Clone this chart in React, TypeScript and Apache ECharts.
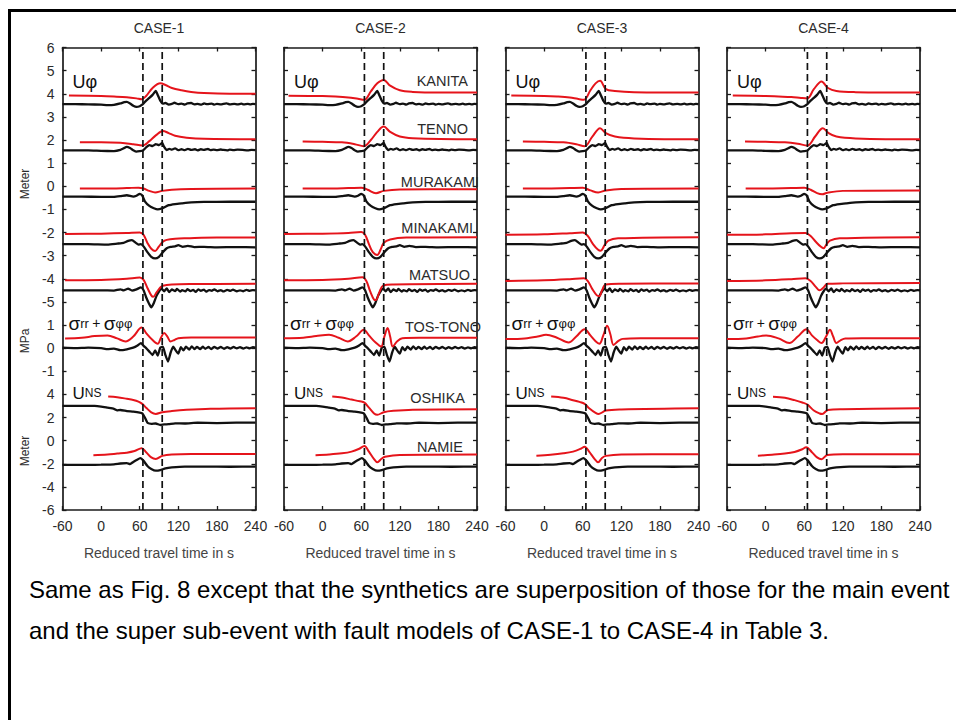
import React, { useEffect, useRef } from 'react';
import * as echarts from 'echarts';

// ---------------- DATA ----------------
const CASES = ['CASE-1', 'CASE-2', 'CASE-3', 'CASE-4'];
const X_MIN = -60;
const X_MAX = 240;
const X_STEP = 60;
const MARKER_TIMES = [65, 95];
const STATIONS = ['KANITA', 'TENNO', 'MURAKAMI', 'MINAKAMI', 'MATSUO', 'TOS-TONO', 'OSHIKA', 'NAMIE'];
// component of each station: phi (Meter), stress (MPa), ns (Meter)
const COMPONENT = ['phi', 'phi', 'phi', 'phi', 'phi', 'stress', 'ns', 'ns'];

// observed records (black) [time s, value]
const kanitaObs = [[-60,3.55],[-40,3.55],[-20,3.54],[0,3.53],[10,3.51],[20,3.52],[30,3.58],[36,3.64],[40,3.65],[45,3.58],[50,3.48],[55,3.43],[60,3.46],[65,3.55],[70,3.7],[75,3.82],[80,3.95],[85,4.12],[88,3.95],[92,3.7],[96,3.57],[100,3.6],[105,3.53],[110,3.56],[114,3.61],[120,3.55],[125,3.57],[130,3.53],[134,3.58],[140,3.6],[145,3.54],[150,3.56],[156,3.53],[160,3.58],[165,3.55],[172,3.57],[176,3.53],[180,3.56],[186,3.54],[190,3.56],[195,3.58],[200,3.54],[207,3.56],[212,3.54],[218,3.57],[222,3.54],[228,3.56],[232,3.54],[236,3.56],[240,3.55]];
const tennoObs = [[-60,1.55],[-20,1.55],[0,1.53],[20,1.52],[30,1.57],[35,1.64],[40,1.7],[45,1.65],[50,1.56],[55,1.5],[60,1.52],[65,1.55],[70,1.68],[75,1.78],[80,1.74],[85,1.82],[90,1.78],[95,1.87],[98,1.7],[102,1.56],[106,1.62],[110,1.58],[115,1.64],[120,1.56],[125,1.6],[130,1.56],[135,1.62],[140,1.57],[146,1.6],[150,1.55],[155,1.6],[160,1.57],[166,1.61],[170,1.56],[175,1.58],[180,1.56],[186,1.59],[190,1.57],[196,1.55],[200,1.58],[206,1.56],[212,1.58],[220,1.57],[228,1.55],[234,1.57],[240,1.56]];
const murakamiObs = [[-60,-0.45],[-30,-0.45],[0,-0.46],[20,-0.46],[30,-0.43],[40,-0.39],[50,-0.45],[55,-0.41],[60,-0.33],[64,-0.4],[68,-0.65],[75,-0.85],[82,-0.95],[88,-1.0],[95,-0.95],[105,-0.82],[115,-0.77],[125,-0.74],[140,-0.7],[160,-0.68],[200,-0.67],[240,-0.67]];
const minakamiObs = [[-60,-2.5],[-20,-2.5],[10,-2.52],[25,-2.48],[35,-2.45],[42,-2.36],[48,-2.33],[54,-2.45],[58,-2.52],[62,-2.5],[66,-2.6],[72,-2.85],[78,-3.05],[84,-3.12],[90,-3.05],[96,-2.85],[102,-2.68],[108,-2.62],[115,-2.6],[120,-2.55],[127,-2.62],[135,-2.58],[145,-2.63],[160,-2.62],[180,-2.64],[210,-2.63],[240,-2.64]];
const matsuoObs = [[-60,-4.5],[-30,-4.5],[0,-4.5],[20,-4.51],[30,-4.46],[35,-4.5],[42,-4.43],[48,-4.51],[55,-4.46],[62,-4.37],[66,-4.5],[70,-4.8],[74,-5.05],[78,-5.24],[82,-5.05],[86,-4.75],[90,-4.55],[94,-4.43],[98,-4.54],[102,-4.42],[106,-4.58],[110,-4.46],[115,-4.53],[118,-4.44],[123,-4.56],[126,-4.49],[131,-4.55],[134,-4.45],[139,-4.53],[143,-4.48],[147,-4.57],[151,-4.46],[155,-4.52],[160,-4.47],[163,-4.56],[168,-4.49],[172,-4.52],[176,-4.46],[181,-4.54],[186,-4.49],[190,-4.55],[196,-4.48],[201,-4.52],[205,-4.47],[211,-4.54],[216,-4.5],[221,-4.54],[226,-4.48],[231,-4.52],[236,-4.49],[240,-4.5]];
const tosTonoObs = [[-60,0.02],[-40,0.0],[-20,0.02],[0,0.0],[10,-0.04],[20,-0.02],[30,-0.09],[40,-0.05],[50,0.02],[56,0.1],[62,0.22],[66,0.1],[70,0.0],[75,-0.15],[80,-0.3],[84,-0.1],[88,-0.32],[92,0.02],[96,0.06],[100,-0.3],[104,-0.58],[108,-0.2],[112,0.06],[116,-0.1],[120,-0.24],[124,0.04],[128,-0.1],[132,0.06],[137,-0.06],[141,0.08],[145,-0.04],[149,0.05],[154,-0.04],[158,0.06],[162,-0.03],[167,0.05],[171,-0.04],[176,0.05],[181,-0.02],[186,0.05],[191,-0.03],[196,0.04],[201,-0.02],[206,0.05],[211,-0.01],[216,0.04],[221,-0.02],[226,0.03],[231,-0.01],[236,0.04],[240,0.02]];
const oshikaObs = [[-60,3.0],[-30,3.0],[-10,3.0],[0,2.95],[10,2.85],[20,2.75],[25,2.62],[30,2.65],[40,2.55],[50,2.5],[60,2.42],[64,2.35],[68,2.0],[72,1.55],[78,1.45],[85,1.48],[92,1.35],[98,1.4],[105,1.42],[115,1.5],[130,1.48],[150,1.55],[180,1.52],[210,1.55],[240,1.55]];
const namieObs = [[-60,-2.1],[-20,-2.1],[0,-2.08],[20,-2.05],[30,-1.98],[40,-1.95],[45,-2.03],[50,-1.85],[56,-1.65],[61,-1.52],[66,-1.75],[72,-2.2],[78,-2.45],[85,-2.6],[92,-2.55],[100,-2.4],[110,-2.32],[130,-2.25],[160,-2.25],[200,-2.26],[240,-2.25]];

// synthetics (red), one list per case
const kanitaSyn = [
  [[-50,3.92],[0,3.9],[20,3.88],[40,3.85],[55,3.8],[63,3.76],[70,3.9],[80,4.25],[92,4.45],[100,4.38],[110,4.25],[125,4.15],[140,4.08],[160,4.03],[200,4.0],[240,4.0]],
  [[-53,3.91],[0,3.9],[20,3.88],[40,3.84],[55,3.78],[65,3.74],[75,4.1],[85,4.45],[95,4.6],[105,4.35],[120,4.15],[140,4.08],[180,4.05],[240,4.05]],
  [[-51,3.92],[0,3.9],[20,3.88],[40,3.84],[52,3.78],[62,3.74],[72,4.15],[80,4.45],[87,4.56],[96,4.2],[110,4.12],[140,4.07],[240,4.05]],
  [[-51,3.92],[0,3.9],[20,3.88],[40,3.86],[55,3.82],[65,3.8],[75,4.2],[87,4.53],[97,4.25],[110,4.12],[140,4.07],[240,4.05]],
];
const tennoSyn = [
  [[-33,1.9],[0,1.9],[30,1.88],[50,1.82],[64,1.76],[75,1.95],[85,2.2],[96,2.39],[105,2.3],[115,2.18],[133,2.1],[160,2.05],[240,2.03]],
  [[-31,1.93],[0,1.92],[30,1.9],[50,1.82],[64,1.73],[75,2.0],[85,2.35],[95,2.58],[105,2.35],[120,2.15],[140,2.08],[240,2.03]],
  [[-33,1.93],[0,1.92],[30,1.9],[50,1.82],[63,1.73],[75,2.15],[87,2.51],[96,2.3],[110,2.15],[140,2.07],[240,2.03]],
  [[-32,1.93],[0,1.92],[30,1.9],[50,1.84],[65,1.76],[77,2.15],[89,2.51],[98,2.3],[110,2.15],[140,2.07],[240,2.03]],
];
const murakamiSyn = [
  [[-33,-0.1],[0,-0.1],[40,-0.08],[58,-0.06],[66,-0.1],[75,-0.2],[84,-0.27],[95,-0.2],[110,-0.15],[140,-0.12],[240,-0.1]],
  [[-31,-0.1],[0,-0.1],[40,-0.08],[60,-0.06],[70,-0.15],[83,-0.3],[95,-0.2],[120,-0.14],[240,-0.13]],
  [[-33,-0.1],[0,-0.1],[40,-0.08],[60,-0.07],[72,-0.18],[84,-0.27],[96,-0.18],[120,-0.12],[240,-0.1]],
  [[-31,-0.1],[0,-0.1],[40,-0.08],[60,-0.07],[70,-0.15],[80,-0.3],[88,-0.35],[96,-0.28],[120,-0.2],[240,-0.18]],
];
const minakamiSyn = [
  [[-56,-2.07],[0,-2.05],[40,-2.02],[60,-2.0],[66,-2.1],[72,-2.45],[78,-2.7],[84,-2.8],[90,-2.6],[96,-2.4],[102,-2.32],[115,-2.27],[133,-2.25],[180,-2.22],[240,-2.22]],
  [[-60,-2.07],[0,-2.05],[40,-2.02],[60,-1.98],[66,-2.1],[72,-2.5],[78,-2.85],[85,-2.97],[90,-2.75],[95,-2.45],[105,-2.3],[130,-2.22],[240,-2.2]],
  [[-60,-2.1],[0,-2.08],[40,-2.03],[60,-2.0],[68,-2.15],[76,-2.5],[84,-2.75],[88,-2.79],[94,-2.55],[100,-2.35],[115,-2.25],[240,-2.2]],
  [[-60,-2.1],[0,-2.08],[40,-2.03],[62,-2.02],[70,-2.15],[78,-2.4],[86,-2.62],[90,-2.68],[95,-2.5],[100,-2.35],[115,-2.25],[240,-2.2]],
];
const matsuoSyn = [
  [[-56,-4.06],[0,-4.05],[40,-4.0],[60,-3.95],[66,-4.05],[72,-4.4],[78,-4.72],[81,-4.78],[86,-4.6],[92,-4.38],[96,-4.3],[110,-4.25],[140,-4.23],[240,-4.22]],
  [[-60,-4.06],[0,-4.05],[40,-4.0],[62,-3.94],[68,-4.1],[74,-4.55],[80,-4.9],[83,-4.92],[88,-4.6],[94,-4.3],[110,-4.25],[240,-4.22]],
  [[-60,-4.1],[0,-4.07],[40,-4.02],[62,-3.98],[68,-4.1],[75,-4.45],[82,-4.72],[86,-4.75],[90,-4.5],[96,-4.25],[120,-4.22],[240,-4.2]],
  [[-60,-4.1],[0,-4.07],[40,-4.02],[62,-3.98],[70,-4.1],[78,-4.35],[84,-4.5],[90,-4.38],[96,-4.22],[120,-4.2],[240,-4.18]],
];
const tosTonoSyn = [
  [[-56,0.42],[-30,0.45],[-10,0.52],[10,0.55],[25,0.42],[38,0.29],[50,0.5],[63,0.89],[70,0.65],[80,0.35],[88,0.19],[93,0.45],[98,0.65],[103,0.5],[108,0.29],[114,0.35],[120,0.43],[140,0.46],[240,0.46]],
  [[-60,0.43],[-30,0.45],[-10,0.52],[10,0.58],[25,0.45],[39,0.29],[52,0.5],[64,0.79],[72,0.55],[82,0.25],[91,0.07],[96,0.5],[101,0.87],[105,0.5],[109,0.07],[116,0.3],[124,0.43],[150,0.45],[240,0.45]],
  [[-60,0.39],[-30,0.42],[-10,0.5],[3,0.58],[20,0.45],[38,0.24],[50,0.5],[63,0.82],[72,0.55],[80,0.3],[86,0.19],[92,0.55],[98,0.97],[103,0.6],[108,0.14],[115,0.3],[122,0.4],[150,0.43],[240,0.43]],
  [[-60,0.39],[-30,0.42],[-12,0.5],[1,0.55],[20,0.42],[37,0.22],[50,0.5],[63.5,0.82],[72,0.55],[80,0.35],[87,0.22],[94,0.5],[100,0.79],[105,0.5],[110,0.22],[117,0.35],[124,0.42],[150,0.43],[240,0.43]],
];
const oshikaSyn = [
  [[11,3.81],[25,3.75],[40,3.62],[50,3.52],[58,3.38],[64,3.18],[70,2.85],[78,2.45],[85,2.31],[95,2.46],[110,2.56],[133,2.66],[170,2.75],[240,2.8]],
  [[15,3.81],[30,3.72],[45,3.55],[58,3.4],[65,3.29],[72,2.85],[80,2.35],[85,2.23],[95,2.46],[110,2.58],[140,2.68],[240,2.72]],
  [[11,3.81],[30,3.7],[45,3.5],[55,3.35],[63,3.18],[70,2.8],[80,2.4],[85,2.31],[96,2.6],[120,2.7],[240,2.8]],
  [[11.5,3.8],[30,3.7],[45,3.5],[57,3.3],[65,3.12],[75,2.6],[84,2.35],[88,2.31],[97,2.65],[120,2.72],[240,2.8]],
];
const namieSyn = [
  [[-12,-1.26],[10,-1.2],[25,-1.12],[40,-1.04],[52,-0.9],[63,-0.66],[70,-1.0],[78,-1.45],[85,-1.58],[95,-1.32],[110,-1.2],[140,-1.15],[240,-1.15]],
  [[-11,-1.26],[10,-1.2],[30,-1.1],[45,-0.95],[57,-0.7],[65,-0.46],[72,-0.95],[80,-1.6],[85,-1.87],[92,-1.55],[97,-1.4],[120,-1.25],[240,-1.21]],
  [[-12,-1.3],[10,-1.22],[30,-1.1],[45,-0.95],[57,-0.7],[63,-0.52],[70,-0.95],[78,-1.55],[84,-1.87],[90,-1.5],[96,-1.32],[120,-1.2],[240,-1.18]],
  [[-12,-1.3],[10,-1.22],[30,-1.12],[45,-0.98],[57,-0.75],[63,-0.57],[72,-1.0],[80,-1.45],[87,-1.61],[96,-1.24],[120,-1.18],[240,-1.18]],
];

const OBS = [kanitaObs, tennoObs, murakamiObs, minakamiObs, matsuoObs, tosTonoObs, oshikaObs, namieObs];
const SYN = [kanitaSyn, tennoSyn, murakamiSyn, minakamiSyn, matsuoSyn, tosTonoSyn, oshikaSyn, namieSyn];

// ---------------- LAYOUT ----------------
const FONT = '"Liberation Sans", Arial, Helvetica, sans-serif';
const GRID_LEFTS = [62.5, 284, 505.5, 727];
const GRID_TOP = 47.5;
const GRID_W = 193;
const GRID_H = 462.5;
const Y_MIN = -14;
const Y_MAX = 6;
const AXIS_COLOR = '#1a1a1a';
const TEXT_COLOR = '#2b2b2b';
const RED = '#e5141b';

// stacked sections on one axis: phi in m (label = value), stress MPa offset, ns in m (2 m per tick)
function toAxis(comp: string, v: number) {
  if (comp === 'stress') return v - 7;
  if (comp === 'ns') return v / 2 - 11;
  return v;
}
function yLabel(v: number) {
  const r = Math.round(v);
  if (r >= -5) return String(r);
  if (r >= -8) return String(r + 7);
  return String((r + 11) * 2);
}

const STATION_LABEL_POS: [number, number][] = [
  [468, 81], [468, 129], [479, 182], [473, 228], [470, 275], [481, 327], [465, 398], [463, 447],
];

function buildOption() {
  const grid = GRID_LEFTS.map((l) => ({ left: l, top: GRID_TOP, width: GRID_W, height: GRID_H }));
  const xAxis: any[] = [];
  const yAxis: any[] = [];
  const axisLine = { show: true, onZero: false, lineStyle: { color: AXIS_COLOR, width: 1.7 } };
  const axisTick = { show: true, inside: true, length: 4, lineStyle: { color: AXIS_COLOR, width: 1.3 } };
  GRID_LEFTS.forEach((_, i) => {
    xAxis.push({
      type: 'value', gridIndex: i, min: X_MIN, max: X_MAX, interval: X_STEP, position: 'bottom',
      axisLine, axisTick, splitLine: { show: false },
      axisLabel: { color: TEXT_COLOR, fontSize: 14, margin: 9, fontFamily: FONT },
      name: 'Reduced travel time in s', nameLocation: 'middle', nameGap: 36,
      nameTextStyle: { color: '#444', fontSize: 14, fontFamily: FONT },
    });
    xAxis.push({
      type: 'value', gridIndex: i, min: X_MIN, max: X_MAX, interval: X_STEP, position: 'top',
      axisLine, axisTick, splitLine: { show: false }, axisLabel: { show: false },
    });
    yAxis.push({
      type: 'value', gridIndex: i, min: Y_MIN, max: Y_MAX, interval: 1, position: 'left',
      axisLine, axisTick, splitLine: { show: false },
      axisLabel: { show: i === 0, formatter: yLabel, color: TEXT_COLOR, fontSize: 14, margin: 8, fontFamily: FONT },
    });
    yAxis.push({
      type: 'value', gridIndex: i, min: Y_MIN, max: Y_MAX, interval: 1, position: 'right',
      axisLine, axisTick, splitLine: { show: false }, axisLabel: { show: false },
    });
  });

  const series: any[] = [];
  GRID_LEFTS.forEach((_, p) => {
    STATIONS.forEach((st, s) => {
      const comp = COMPONENT[s];
      series.push({
        type: 'line', name: st + ' obs', xAxisIndex: 2 * p, yAxisIndex: 2 * p,
        data: OBS[s].map(([t, v]) => [t, toAxis(comp, v)]),
        showSymbol: false, silent: true, smooth: 0.15,
        lineStyle: { color: '#111', width: 2.3 }, z: 3,
      });
      series.push({
        type: 'line', name: st + ' syn', xAxisIndex: 2 * p, yAxisIndex: 2 * p,
        data: SYN[s][p].map(([t, v]) => [t, toAxis(comp, v)]),
        showSymbol: false, silent: true, smooth: 0.35,
        lineStyle: { color: RED, width: 2 }, z: 4,
      });
    });
    MARKER_TIMES.forEach((mt) => {
      series.push({
        type: 'line', xAxisIndex: 2 * p, yAxisIndex: 2 * p,
        data: [[mt, Y_MIN], [mt, Y_MAX]],
        showSymbol: false, silent: true,
        lineStyle: { color: '#111', width: 1.7, type: [7, 4] }, z: 5,
      });
    });
  });

  const graphic: any[] = [];
  // case titles
  CASES.forEach((c, i) => {
    graphic.push({
      type: 'text', x: GRID_LEFTS[i] + GRID_W / 2, y: 28,
      style: { text: c, fill: TEXT_COLOR, font: `14px ${FONT}`, align: 'center', verticalAlign: 'middle' },
    });
  });
  // axis unit labels
  const units: [string, number][] = [['Meter', 184], ['MPa', 341], ['Meter', 451]];
  units.forEach(([t, y]) => {
    graphic.push({
      type: 'text', x: 25, y, rotation: Math.PI / 2,
      style: { text: t, fill: TEXT_COLOR, font: `12px ${FONT}`, align: 'center', verticalAlign: 'middle' },
    });
  });
  // component labels in each panel
  GRID_LEFTS.forEach((l) => {
    graphic.push({
      type: 'text', x: l + 10, y: 82,
      style: { text: 'Uφ', fill: '#111', font: `18px ${FONT}`, align: 'left', verticalAlign: 'middle' },
    });
    graphic.push({
      type: 'text', x: l + 6, y: 323,
      style: {
        text: '{a|σ}{b|rr} {c|+} {a|σ}{b|φφ}', align: 'left', verticalAlign: 'middle',
        rich: {
          a: { fontSize: 19, fontFamily: FONT, fill: '#111' },
          b: { fontSize: 13, fontFamily: FONT, fill: '#111' },
          c: { fontSize: 14, fontFamily: FONT, fill: '#111' },
        },
      },
    });
    graphic.push({
      type: 'text', x: l + 10, y: 393,
      style: {
        text: '{a|U}{b|NS}', align: 'left', verticalAlign: 'middle',
        rich: {
          a: { fontSize: 17, fontFamily: FONT, fill: '#111' },
          b: { fontSize: 12, fontFamily: FONT, fill: '#111' },
        },
      },
    });
  });
  // station names (panel 2)
  STATIONS.forEach((st, s) => {
    const [x, y] = STATION_LABEL_POS[s];
    graphic.push({
      type: 'text', x, y, z: 10,
      style: { text: st, fill: TEXT_COLOR, font: `14.5px ${FONT}`, align: 'right', verticalAlign: 'middle' },
    });
  });
  // caption
  const caption = [
    'Same as Fig. 8 except that the synthetics are superposition of those for the main event',
    'and the super sub-event with fault models of CASE-1 to CASE-4 in Table 3.',
  ];
  caption.forEach((line, i) => {
    graphic.push({
      type: 'text', x: 29, y: 589 + i * 41.5,
      style: { text: line, fill: '#000', font: `24px ${FONT}`, align: 'left', verticalAlign: 'middle' },
    });
  });

  return {
    animation: false,
    backgroundColor: '#ffffff',
    textStyle: { fontFamily: FONT },
    grid, xAxis, yAxis, series, graphic,
  };
}

export default function App() {
  const ref = useRef<HTMLDivElement>(null);
  useEffect(() => {
    if (!ref.current) return;
    const chart = echarts.init(ref.current, undefined, { renderer: 'svg' });
    chart.setOption(buildOption() as any);
    return () => chart.dispose();
  }, []);
  return (
    <div style={{ position: 'absolute', left: 0, top: 0, width: 956, height: 720, background: '#fff', overflow: 'hidden' }}>
      <div ref={ref} style={{ position: 'absolute', left: 0, top: 0, width: 956, height: 720 }} />
      <div
        style={{
          position: 'absolute', left: 7.5, top: 8.5, width: 960, height: 720,
          borderTop: '3px solid #000', borderLeft: '3px solid #000', boxSizing: 'border-box',
          pointerEvents: 'none',
        }}
      />
    </div>
  );
}
